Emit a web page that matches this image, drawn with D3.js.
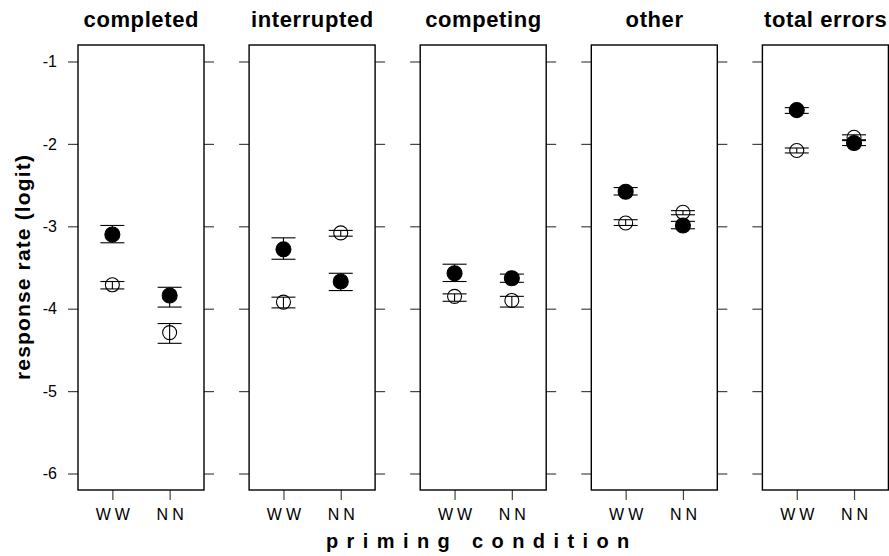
<!DOCTYPE html>
<html>
<head>
<meta charset="utf-8">
<script src="https://cdn.jsdelivr.net/npm/d3@7"></script>
<style>
  body { margin: 0; background: #fff; }
  svg { font-family: 'Liberation Sans', Arial, sans-serif; }
</style>
</head>
<body>
<script>
const panels = ['completed', 'interrupted', 'competing', 'other', 'total errors'];
const conditions = ['WW', 'NN'];
const yTicks = [-1, -2, -3, -4, -5, -6];

// filled circles: [WW, NN] per panel
const solidMean = [[-3.10, -3.84], [-3.28, -3.67], [-3.57, -3.63], [-2.58, -2.99], [-1.59, -1.99]];
const solidHi   = [[-2.99, -3.74], [-3.14, -3.57], [-3.46, -3.58], [-2.53, -2.94], [-1.56, -1.96]];
const solidLo   = [[-3.20, -3.98], [-3.40, -3.78], [-3.67, -3.68], [-2.62, -3.03], [-1.63, -2.02]];

// open circles
const hollowMean = [[-3.71, -4.29], [-3.92, -3.08], [-3.85, -3.90], [-2.96, -2.83], [-2.08, -1.92]];
const hollowHi   = [[-3.67, -4.18], [-3.86, -3.05], [-3.82, -3.85], [-2.92, -2.81], [-2.05, -1.89]];
const hollowLo   = [[-3.76, -4.42], [-3.99, -3.12], [-3.91, -3.98], [-2.99, -2.86], [-2.11, -1.95]];

const w = 889;
const h = 556;
const padLeft = 78;
const pw = 126;
const step = 171.1;
const padTop = 45;
const padBottom = 490;

const svg = d3.select('body').append('svg').attr('width', w).attr('height', h);

const yScale = d3.scaleLinear().domain([-6.2, -0.8]).range([padBottom, padTop]);
const xScale = d3.scaleLinear().domain([0.4, 2.6]).range([0, pw]);

panels.forEach((name, i) => {
  const g = svg.append('g').attr('transform', 'translate(' + (padLeft + i * step) + ',0)');

  // left axis
  const yl = g.append('g').call(d3.axisLeft(yScale).tickValues(yTicks).tickSize(10).tickFormat(i === 0 ? (d) => String(d) : ''));
  // right axis
  const yr = g.append('g').attr('transform', 'translate(' + pw + ',0)').call(d3.axisRight(yScale).tickValues(yTicks).tickSize(10).tickFormat(''));
  // bottom axis
  const xb = g.append('g').attr('transform', 'translate(0,' + padBottom + ')')
    .call(d3.axisBottom(xScale).tickValues([1, 2]).tickSize(10).tickPadding(9).tickFormat((d) => conditions[d - 1]));

  [yl, yr, xb].forEach((a) => {
    a.select('.domain').remove();
    a.selectAll('.tick line').attr('stroke', '#444').attr('stroke-width', 1.2);
  });
  yl.selectAll('.tick text').attr('font-size', 16).attr('x', -21).attr('fill', '#000');
  xb.selectAll('.tick text').attr('font-size', 16).attr('letter-spacing', 4).attr('dx', 2).attr('fill', '#000');

  g.append('rect')
   .attr('x', 0).attr('y', padTop)
   .attr('width', pw).attr('height', padBottom - padTop)
   .attr('fill', 'none').attr('stroke', '#000').attr('stroke-width', 1.4);

  g.append('text').text(name)
   .attr('x', pw / 2).attr('y', 27).attr('dx', 0.3)
   .attr('text-anchor', 'middle')
   .attr('font-size', 22).attr('font-weight', 'bold')
   .attr('letter-spacing', 0.6);

  const series = [
    {mean: hollowMean[i], hi: hollowHi[i], lo: hollowLo[i], fill: 'none', r: 7},
    {mean: solidMean[i], hi: solidHi[i], lo: solidLo[i], fill: '#000', r: 7.5}
  ];

  series.forEach((s) => {
    const pts = conditions.map((c, j) => ({x: j + 1, m: s.mean[j], hi: s.hi[j], lo: s.lo[j]}));
    const eb = g.append('g').attr('stroke', '#000').attr('stroke-width', 1.1);
    eb.selectAll('line.v').data(pts).enter().append('line')
      .attr('x1', (d) => xScale(d.x)).attr('x2', (d) => xScale(d.x))
      .attr('y1', (d) => yScale(d.hi)).attr('y2', (d) => yScale(d.lo));
    eb.selectAll('line.hi').data(pts).enter().append('line')
      .attr('x1', (d) => xScale(d.x) - 12).attr('x2', (d) => xScale(d.x) + 12)
      .attr('y1', (d) => yScale(d.hi)).attr('y2', (d) => yScale(d.hi));
    eb.selectAll('line.lo').data(pts).enter().append('line')
      .attr('x1', (d) => xScale(d.x) - 12).attr('x2', (d) => xScale(d.x) + 12)
      .attr('y1', (d) => yScale(d.lo)).attr('y2', (d) => yScale(d.lo));
    g.append('g').selectAll('circle').data(pts).enter().append('circle')
      .attr('cx', (d) => xScale(d.x)).attr('cy', (d) => yScale(d.m))
      .attr('r', s.r)
      .attr('fill', s.fill).attr('stroke', '#000').attr('stroke-width', 1.1);
  });
});

svg.append('text').text('response rate (logit)')
   .attr('transform', 'translate(30,380)rotate(-90)')
   .attr('text-anchor', 'start')
   .attr('font-size', 21).attr('font-weight', 'bold')
   .attr('letter-spacing', 1.15);

svg.append('text').text('priming  condition')
   .attr('x', 326).attr('y', 548)
   .attr('text-anchor', 'start')
   .attr('font-size', 20).attr('font-weight', 'bold')
   .attr('letter-spacing', 8.4);
</script>
</body>
</html>
